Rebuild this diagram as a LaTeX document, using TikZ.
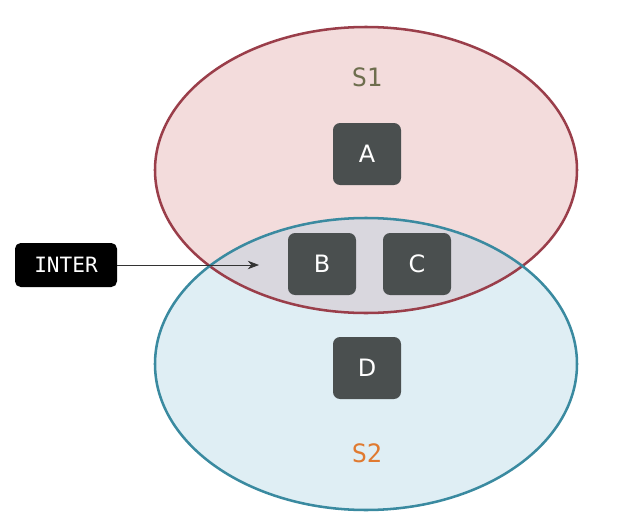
\documentclass[tikz,border=0pt]{standalone}
\usepackage{fontspec}
\setsansfont{DejaVu Sans}
\setmonofont{DejaVu Sans Mono}
\usetikzlibrary{arrows.meta, positioning}

\begin{document}
\begin{tikzpicture}[
    x=0.025cm, y=-0.025cm,
    every node/.style={font=\sffamily},
    setbox/.style={draw=none, fill=boxcolor, rounded corners=5pt,
        minimum width=68*0.025cm, minimum height=62*0.025cm,
        text=white, font=\sffamily\fontsize{17}{17}\selectfont},
    setlabel/.style={font=\ttfamily\fontsize{18}{18}\selectfont},
]

\definecolor{s1fill}{HTML}{F3DCDC}   % S1 only
\definecolor{s1line}{HTML}{9A3E4A}
\definecolor{s2fill}{HTML}{DFEEF4}   % S2 only
\definecolor{s2line}{HTML}{3A8AA0}
\definecolor{bothfill}{HTML}{D9D7DE} % S1 and S2
\definecolor{boxcolor}{HTML}{4A4F4F}
\definecolor{s1text}{HTML}{6E6E4E}
\definecolor{s2text}{HTML}{E07A30}

\useasboundingbox (0,0) rectangle (641,527);

% ---------------------------------------------------------------- the two sets
\fill[s1fill] (366,170) ellipse [x radius=211, y radius=143];
\fill[s2fill] (366,364) ellipse [x radius=211, y radius=146];
\begin{scope}
    \clip (366,170) ellipse [x radius=211, y radius=143];
    \fill[bothfill] (366,364) ellipse [x radius=211, y radius=146];
\end{scope}
\draw[s1line, line width=1.8pt] (366,170) ellipse [x radius=211, y radius=143];
\draw[s2line, line width=1.8pt] (366,364) ellipse [x radius=211, y radius=146];

\node[setlabel, text=s1text] (s1) at (367,77) {S1};
\node[setlabel, text=s2text] (s2) at (367,453) {S2};

% ---------------------------------------------------------------- members
\node[setbox] (a) at (367,154) {A};
\node[setbox] (b) at (322,264) {B};
\node[setbox] (c) at (417,264) {C};
\node[setbox] (d) at (367,368) {D};

% ---------------------------------------------------------------- INTER
\node[fill=black, rounded corners=4pt, text=white, minimum width=102*0.025cm,
      minimum height=44*0.025cm, font=\ttfamily\fontsize{15}{15}\selectfont]
    (inter) at (66,265) {INTER};
\coordinate (both) at (259,265);
\draw[-{Stealth[length=8pt, width=6pt]}, line width=0.5pt, black!80]
    (inter.east) -- (both);

\end{tikzpicture}
\end{document}
